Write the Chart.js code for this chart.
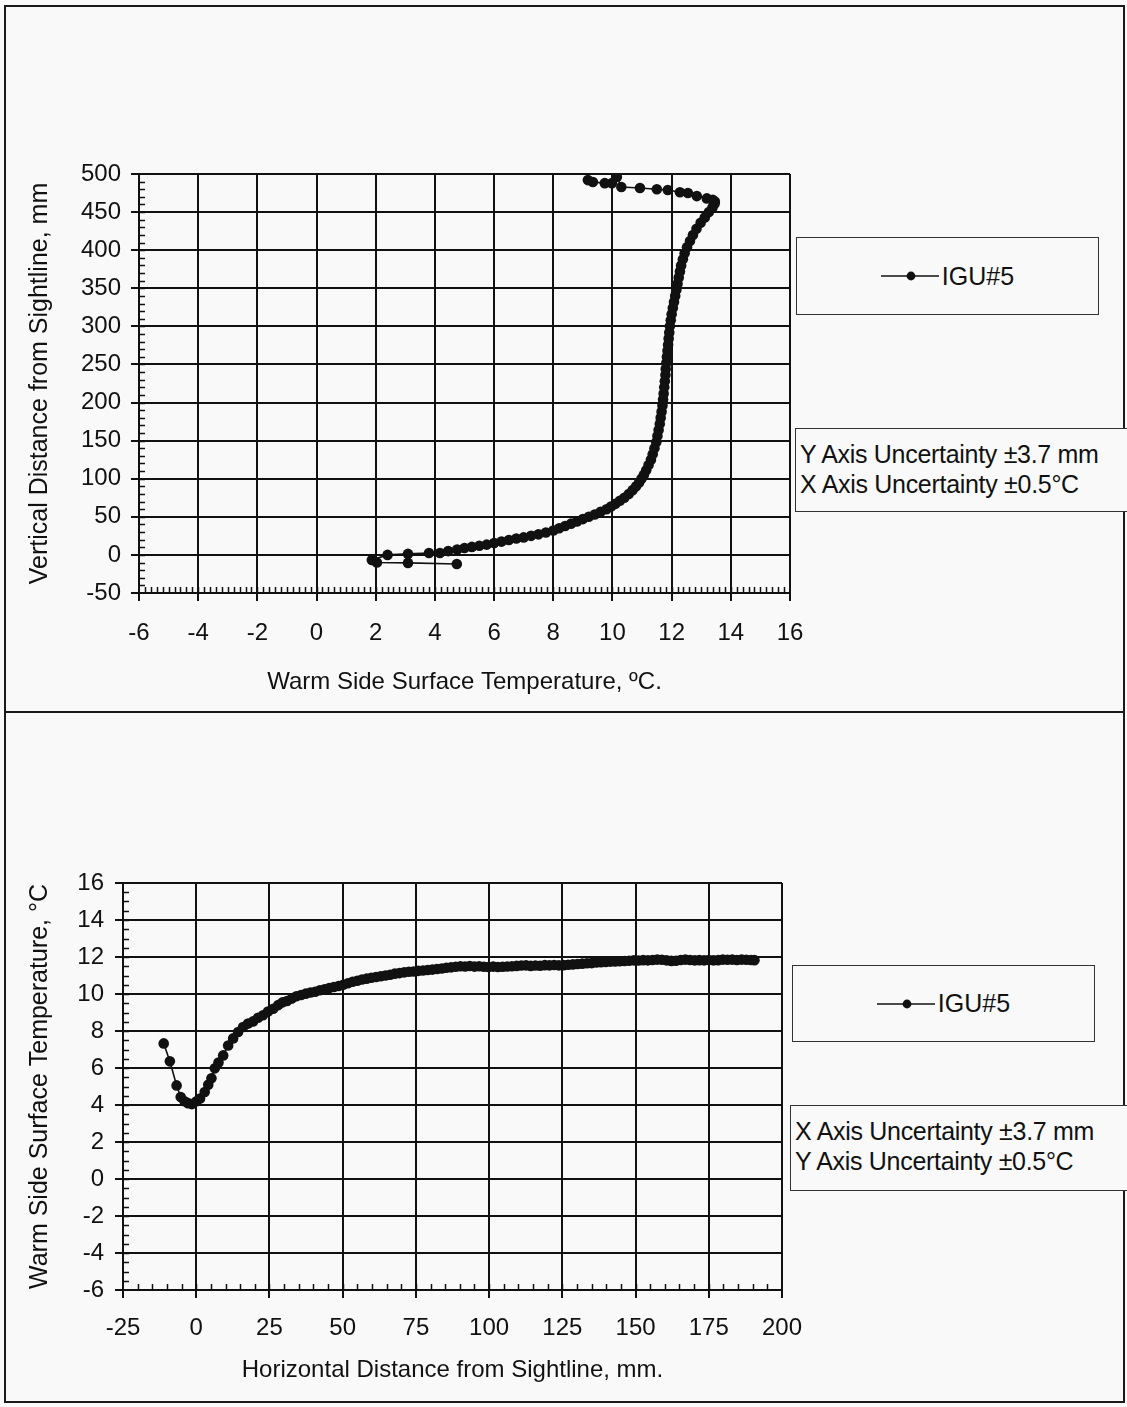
<!DOCTYPE html>
<html>
<head>
<meta charset="utf-8">
<script src="https://cdn.jsdelivr.net/npm/chart.js@4.4.1/dist/chart.umd.min.js"></script>
<style>
  body { margin: 0; background: #f9f9f9; width: 1127px; height: 1407px; position: relative; overflow: hidden;
         font-family: "Liberation Sans", Arial, sans-serif; color: #111; }
  .panel { position: absolute; border: 2px solid #1a1a1a; box-sizing: border-box; }
  canvas { position: absolute; }
  .legend { position: absolute; border: 1.5px solid #333; box-sizing: border-box; background: #f9f9f9;
            display: flex; align-items: center; justify-content: center; font-size: 25px; }
  .legend svg { margin-right: 3px; }
  .note { position: absolute; border: 1.5px solid #333; box-sizing: border-box; background: #f9f9f9;
          font-size: 25px; line-height: 30px; padding: 10px 0 0 4px; white-space: nowrap; letter-spacing: -0.3px; }
</style>
</head>
<body>
<div class="panel" style="left:4px; top:5px; width:1121px; height:708px;"></div>
<div class="panel" style="left:4px; top:711px; width:1121px; height:692px;"></div>

<canvas id="chartTop" width="1116" height="703" style="left:6px; top:7px;"></canvas>
<canvas id="chartBottom" width="1116" height="688" style="left:6px; top:714px;"></canvas>

<div class="legend" id="legendTop" style="left:796px; top:237px; width:303px; height:78px;"></div>
<div class="note" style="left:795px; top:428px; width:340px; height:84px;">Y Axis Uncertainty ±3.7 mm<br>X Axis Uncertainty ±0.5°C</div>

<div class="legend" id="legendBottom" style="left:792px; top:965px; width:303px; height:77px;"></div>
<div class="note" style="left:790px; top:1105px; width:345px; height:86px;">X Axis Uncertainty ±3.7 mm<br>Y Axis Uncertainty ±0.5°C</div>

<script>
const serieNombre = 'IGU#5';

// Gráfico superior: temperatura (x) contra distancia vertical (y)
const tempArriba = [4.74, 3.09, 2.04, 1.87, 2.40, 3.09, 3.80, 4.17, 4.45, 4.75, 5.0, 5.25, 5.5, 5.75, 6.0, 6.25,
  6.5, 6.75, 7.0, 7.25, 7.5, 7.75, 8.0, 8.2, 8.4, 8.6, 8.8, 9.0, 9.2, 9.4, 9.6, 9.8, 9.95, 10.1, 10.25, 10.4,
  10.55, 10.68, 10.8, 10.9, 10.98, 11.06, 11.14, 11.22, 11.3, 11.36, 11.42, 11.48, 11.52, 11.56, 11.6, 11.63,
  11.66, 11.69, 11.71, 11.73, 11.75, 11.77, 11.79, 11.8, 11.82, 11.84, 11.86, 11.88, 11.9, 11.92, 11.94, 11.97,
  12.0, 12.04, 12.08, 12.12, 12.16, 12.2, 12.24, 12.28, 12.32, 12.38, 12.44, 12.52, 12.62, 12.72, 12.84, 12.98,
  13.12, 13.26, 13.38, 13.45, 13.46, 13.39, 13.19, 12.85, 12.55, 12.28, 11.87, 11.5, 10.93, 10.3, 10.15, 9.98,
  9.74, 9.34, 9.17];
const distVertical = [-12, -10.5, -10, -6.6, 0, 1.3, 2.6, 2.6, 5, 7, 9, 10.5, 12, 13.5, 15.5, 17.5,
  19.5, 21.5, 23, 25, 27, 29.5, 32, 35, 38, 41, 44, 47, 50, 53, 56.5, 60, 63.5, 67, 71, 75,
  80, 85, 90, 95, 100, 105, 111, 118, 125, 132, 140, 148, 156, 164, 172, 180,
  188, 196, 204, 212, 220, 228, 236, 244, 252, 260, 268, 276, 284, 292, 300, 308,
  316, 324, 332, 340, 348, 356, 364, 372, 380, 388, 396, 404, 412, 420, 428, 436,
  443, 450, 456, 461, 464, 466, 468, 471, 475, 476, 479, 480, 481.6, 483, 496, 488,
  488, 489.5, 492];

// Gráfico inferior: distancia horizontal (x) contra temperatura (y)
const distHorizontal = [-11.1, -9.0, -6.7, -5.3, -4.0, -2.8, -1.5, 0.1, 1.3, 2.9, 4.1, 5.2, 6.35, 7.6, 9.2,
  10.9, 12.6, 14.3, 16.0, 17.7, 19.4, 21.1, 22.8, 24.5, 26.3, 28.0, 29.5, 31.0, 32.6, 34.2, 35.8, 37.4, 39.0,
  40.6, 42.2, 43.8, 45.4, 47.0, 48.6, 50.2, 51.8, 53.4, 55.0, 56.6, 58.2, 59.8, 61.4, 63.0, 64.6, 66.2, 67.8,
  69.4, 71.0, 72.6, 74.2, 75.8, 77.4, 79.0, 80.6, 82.2, 83.8, 85.4, 87.0, 88.6, 90.2, 91.8, 93.4, 95.0, 96.6,
  98.2, 99.8, 101.4, 103.0, 104.6, 106.2, 107.8, 109.4, 111.0, 112.6, 114.2, 115.8, 117.4, 119.0, 120.6, 122.2,
  123.8, 125.4, 127.0, 128.6, 130.2, 131.8, 133.4, 135.0, 136.6, 138.2, 139.8, 141.4, 143.0, 144.6, 146.2,
  147.8, 149.4, 151.0, 152.6, 154.2, 155.8, 157.4, 159.0, 160.6, 162.2, 163.8, 165.4, 167.0, 168.6, 170.2,
  171.8, 173.4, 175.0, 176.6, 178.2, 179.8, 181.4, 183.0, 184.6, 186.2, 187.8, 189.4, 190.6];
const tempAbajo = [7.33, 6.36, 5.06, 4.43, 4.2, 4.1, 4.05, 4.2, 4.35, 4.7, 5.1, 5.44, 5.98, 6.3, 6.68,
  7.22, 7.6, 7.95, 8.22, 8.4, 8.52, 8.72, 8.85, 9.05, 9.2, 9.4, 9.55, 9.62, 9.75, 9.88, 9.95, 10.02, 10.08,
  10.12, 10.2, 10.26, 10.32, 10.38, 10.43, 10.5, 10.58, 10.66, 10.72, 10.78, 10.83, 10.88, 10.92, 10.96, 11.0, 11.04, 11.1,
  11.13, 11.17, 11.2, 11.22, 11.25, 11.27, 11.3, 11.32, 11.35, 11.38, 11.42, 11.44, 11.47, 11.5, 11.49, 11.51, 11.48, 11.5,
  11.47, 11.46, 11.48, 11.46, 11.47, 11.49, 11.5, 11.52, 11.54, 11.55, 11.52, 11.54, 11.53, 11.56, 11.55, 11.57,
  11.55, 11.56, 11.58, 11.6, 11.62, 11.64, 11.66, 11.67, 11.7, 11.72, 11.73, 11.75, 11.76, 11.77, 11.78,
  11.8, 11.82, 11.81, 11.83, 11.82, 11.84, 11.86, 11.85, 11.82, 11.79, 11.8, 11.84, 11.86, 11.84, 11.82,
  11.83, 11.82, 11.84, 11.82, 11.83, 11.86, 11.85, 11.86, 11.84, 11.86, 11.85, 11.84, 11.83];

const fuente = '"Liberation Sans", Arial, sans-serif';
const negro = '#111';

// Marcas menores hacia dentro del área del gráfico
const marcasMenores = {
  id: 'marcasMenores',
  afterDatasetsDraw(chart, args, opts) {
    const {ctx, chartArea: a, scales: {x, y}} = chart;
    ctx.save();
    ctx.strokeStyle = negro;
    ctx.lineWidth = 1.5;
    ctx.beginPath();
    const nx = Math.round((x.max - x.min) / opts.pasoX);
    for (let i = 1; i < nx; i++) {
      const px = Math.round(x.getPixelForValue(x.min + i * opts.pasoX)) + 0.5;
      ctx.moveTo(px, a.bottom);
      ctx.lineTo(px, a.bottom - opts.largo);
    }
    const ny = Math.round((y.max - y.min) / opts.pasoY);
    for (let i = 1; i < ny; i++) {
      const py = Math.round(y.getPixelForValue(y.min + i * opts.pasoY)) + 0.5;
      ctx.moveTo(a.left, py);
      ctx.lineTo(a.left + opts.largo, py);
    }
    ctx.stroke();
    ctx.restore();
  }
};

function crearGrafico(id, xs, ys, cfg) {
  return new Chart(document.getElementById(id), {
    type: 'scatter',
    data: {
      datasets: [{
        label: serieNombre,
        data: xs.map((v, i) => ({x: v, y: ys[i]})),
        showLine: true,
        borderColor: negro,
        borderWidth: 1.6,
        backgroundColor: negro,
        pointRadius: 5.3,
        pointBorderWidth: 0,
        pointHoverRadius: 5.3
      }]
    },
    options: {
      responsive: false,
      animation: false,
      devicePixelRatio: 1,
      layout: {padding: {left: 0, top: cfg.padTop, right: cfg.padRight, bottom: 0}},
      plugins: {
        legend: {display: false},
        tooltip: {enabled: false},
        marcasMenores: {pasoX: cfg.menorX, pasoY: cfg.menorY, largo: 6}
      },
      scales: {
        x: {
          type: 'linear',
          min: cfg.xMin, max: cfg.xMax,
          afterFit: (s) => { s.height = cfg.altoX; },
          ticks: {stepSize: cfg.pasoX, color: negro, padding: cfg.padTickX, font: {family: fuente, size: 24}},
          grid: {color: negro, lineWidth: 2, tickLength: 8},
          border: {color: negro, width: 2},
          title: {display: true, text: cfg.tituloX, color: negro,
                  font: {family: fuente, size: 24}, padding: {top: 0, bottom: cfg.padTituloX}}
        },
        y: {
          type: 'linear',
          min: cfg.yMin, max: cfg.yMax,
          afterFit: (s) => { s.width = cfg.anchoY; },
          ticks: {stepSize: cfg.pasoY, color: negro, padding: cfg.padTickY, font: {family: fuente, size: 24}},
          grid: {color: negro, lineWidth: 2, tickLength: 8},
          border: {color: negro, width: 2},
          title: {display: true, text: cfg.tituloY, color: negro,
                  font: {family: fuente, size: 25}, padding: {top: 19, bottom: 0}}
        }
      }
    },
    plugins: [marcasMenores]
  });
}

const graficoArriba = crearGrafico('chartTop', tempArriba, distVertical, {
  xMin: -6, xMax: 16, pasoX: 2, menorX: 0.2,
  yMin: -50, yMax: 500, pasoY: 50, menorY: 10,
  padTop: 167, padRight: 332, altoX: 117, anchoY: 133,
  padTickX: 18, padTickY: 10, padTituloX: 13,
  tituloX: 'Warm Side Surface Temperature, ºC.',
  tituloY: 'Vertical Distance from Sightline, mm'
});

const graficoAbajo = crearGrafico('chartBottom', distHorizontal, tempAbajo, {
  xMin: -25, xMax: 200, pasoX: 25, menorX: 5,
  yMin: -6, yMax: 16, pasoY: 2, menorY: 0.5,
  padTop: 169, padRight: 340, altoX: 112, anchoY: 117,
  padTickX: 16, padTickY: 11, padTituloX: 17,
  tituloX: 'Horizontal Distance from Sightline, mm.',
  tituloY: 'Warm Side Surface Temperature, °C'
});

// Leyenda en HTML con el símbolo de línea y punto
function leyenda(id, chart) {
  const ds = chart.data.datasets[0];
  document.getElementById(id).innerHTML =
    '<svg width="58" height="12"><line x1="0" y1="6" x2="58" y2="6" stroke="' + ds.borderColor +
    '" stroke-width="1.6"/><circle cx="30" cy="6" r="4.4" fill="' + ds.backgroundColor + '"/></svg>' +
    '<span>' + ds.label + '</span>';
}
leyenda('legendTop', graficoArriba);
leyenda('legendBottom', graficoAbajo);
</script>
</body>
</html>
